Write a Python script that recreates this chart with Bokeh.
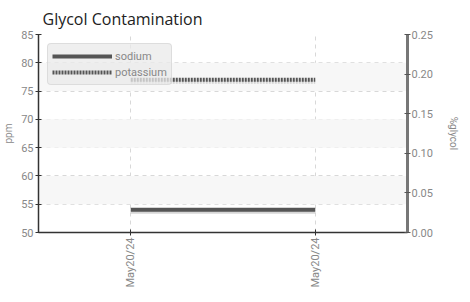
from bokeh.plotting import figure
from bokeh.models import Range1d, LinearAxis, BoxAnnotation, FixedTicker, Legend, LegendItem, NumeralTickFormatter
from bokeh.embed import file_html
from bokeh.resources import INLINE

dates = ["May20/24", "May20/24"]
x_idx = [0, 1]
sodium = [54, 54]
potassium = [77, 77]
ppm_ticks = [50, 55, 60, 65, 70, 75, 80, 85]
glycol_ticks = [0.0, 0.05, 0.10, 0.15, 0.20, 0.25]

p = figure(frame_width=369, frame_height=198, output_backend="svg", toolbar_location=None,
           x_range=Range1d(-0.5, 1.5), y_range=Range1d(50, 85),
           min_border_left=28, min_border_right=10, min_border_top=10, min_border_bottom=10)
p.extra_y_ranges = {"glycol": Range1d(0, 0.25)}

p.title.text = "Glycol Contamination"
p.title.text_font = "Open Sans"
p.title.text_font_size = "16px"
p.title.text_font_style = "normal"
p.title.text_color = "#222222"
p.title.offset = 4

p.outline_line_color = None
p.background_fill_color = "white"

for lo, hi in [(55, 60), (65, 70), (75, 80)]:
    p.add_layout(BoxAnnotation(bottom=lo, top=hi, fill_color="#f7f7f7", fill_alpha=1.0, line_color=None, level="underlay"))

p.xaxis.ticker = FixedTicker(ticks=x_idx)
p.xaxis.major_label_overrides = {i: d for i, d in zip(x_idx, dates)}
p.xaxis.major_label_orientation = 1.5708
p.yaxis.ticker = FixedTicker(ticks=ppm_ticks)
p.yaxis.axis_label = "ppm"

for ax in [p.xaxis[0], p.yaxis[0]]:
    ax.axis_line_color = "#333333"
    ax.axis_line_width = 1.5
    ax.major_tick_line_color = "#333333"
    ax.major_tick_in = 3
    ax.major_tick_out = 3
    ax.minor_tick_line_color = None
    ax.major_label_text_font = "Roboto"
    ax.major_label_text_font_size = "11px"
    ax.major_label_text_color = "#888888"
    ax.major_label_standoff = 2
    ax.axis_label_text_font = "Roboto"
    ax.axis_label_text_font_size = "10px"
    ax.axis_label_text_font_style = "normal"
    ax.axis_label_text_color = "#888888"
    ax.axis_label_standoff = 4

rax = LinearAxis(y_range_name="glycol", ticker=FixedTicker(ticks=glycol_ticks), axis_label="%glycol",
                 formatter=NumeralTickFormatter(format="0.00"))
rax.axis_line_color = "#777777"
rax.axis_line_width = 3
rax.major_tick_line_color = "#555555"
rax.major_tick_in = 3
rax.major_tick_out = 3
rax.minor_tick_line_color = None
rax.major_label_text_font = "Roboto"
rax.major_label_text_font_size = "11px"
rax.major_label_text_color = "#888888"
rax.major_label_standoff = 1
rax.axis_label_text_font = "Roboto"
rax.axis_label_text_font_size = "10px"
rax.axis_label_text_font_style = "normal"
rax.axis_label_text_color = "#888888"
rax.axis_label_standoff = 12
p.add_layout(rax, "right")

p.xgrid.ticker = FixedTicker(ticks=x_idx)
p.ygrid.ticker = FixedTicker(ticks=ppm_ticks)
for g in [p.xgrid[0], p.ygrid[0]]:
    g.grid_line_color = "#d8d8d8"
    g.grid_line_dash = "4 4"
    g.grid_line_width = 1

# shadows
p.line(x_idx, [v - 0.35 for v in sodium], line_color="#bbbbbb", line_width=4, line_alpha=0.6)
p.line(x_idx, [v - 0.35 for v in potassium], line_color="#bbbbbb", line_width=4, line_alpha=0.6, line_dash="2 1")
r1 = p.line(x_idx, sodium, line_color="#555555", line_width=4)
r2 = p.line(x_idx, potassium, line_color="#555555", line_width=4, line_dash="2 1")

leg = Legend(items=[LegendItem(label="sodium", renderers=[r1]), LegendItem(label="potassium", renderers=[r2])],
             location="top_left")
leg.glyph_width = 60
leg.glyph_height = 16
leg.label_text_font = "Roboto"
leg.label_text_font_size = "11px"
leg.label_text_color = "#888888"
leg.label_standoff = 3
leg.label_height = 16
leg.spacing = 0
leg.padding = 4
leg.margin = 9
leg.background_fill_color = "#eaeaea"
leg.background_fill_alpha = 0.75
leg.border_line_color = "#cccccc"
leg.border_radius = 4
p.add_layout(leg)

open("out.html", "w").write(file_html(p, INLINE))
